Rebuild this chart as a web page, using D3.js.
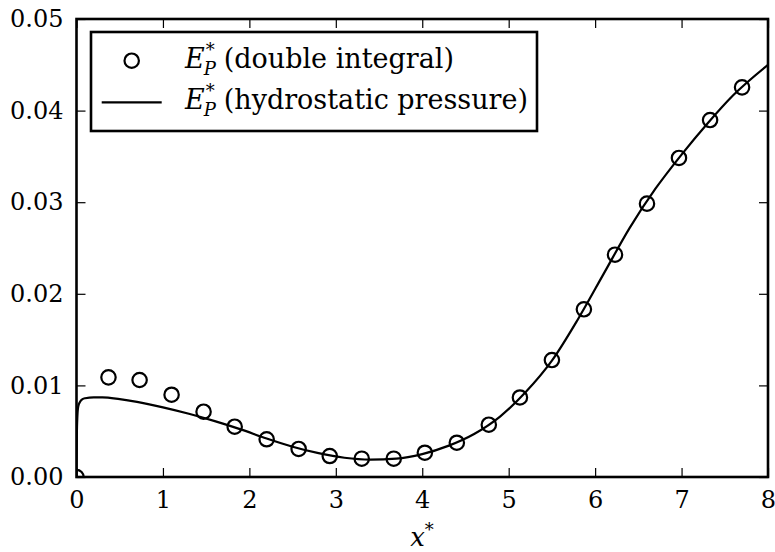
<!DOCTYPE html>
<html>
<head>
<meta charset="utf-8">
<script src="https://cdn.jsdelivr.net/npm/d3@7"></script>
<style>
  html, body { margin: 0; padding: 0; background: #fff; }
  svg { display: block; }
</style>
</head>
<body>
<svg id="chart" width="775" height="552"></svg>
<script>
// ---- data ----
const xTicks = [0, 1, 2, 3, 4, 5, 6, 7, 8];
const yTicks = [0.00, 0.01, 0.02, 0.03, 0.04, 0.05];
const yTickLabels = ["0.00", "0.01", "0.02", "0.03", "0.04", "0.05"];

// circles: E*_P (double integral)
const pointX = [0.00, 0.37, 0.73, 1.10, 1.47, 1.83, 2.20, 2.57, 2.93, 3.30, 3.67,
                4.03, 4.40, 4.77, 5.13, 5.50, 5.87, 6.23, 6.60, 6.97, 7.33, 7.70];
const pointY = [0.0000, 0.01088, 0.01059, 0.00898, 0.00713, 0.00549, 0.00412, 0.00306,
                0.00229, 0.00200, 0.00200, 0.00265, 0.00374, 0.00571, 0.00868, 0.01277,
                0.01831, 0.02427, 0.02984, 0.03483, 0.03897, 0.04254];

// line: E*_P (hydrostatic pressure)
const lineX = [0.000, 0.004, 0.010, 0.020, 0.040, 0.070, 0.100, 0.200, 0.300, 0.500, 0.700,
               1.000, 1.300, 1.600, 1.900, 2.200, 2.500, 2.800, 3.100, 3.400, 3.700,
               4.000, 4.300, 4.600, 4.900, 5.200, 5.500, 5.800, 6.100, 6.400, 6.700,
               7.000, 7.300, 7.600, 8.000];
const lineY = [0.0000, 0.0045, 0.0066, 0.0077, 0.0082, 0.0085, 0.0086, 0.0087, 0.0087, 0.0085, 0.0082,
               0.0076, 0.0069, 0.0061, 0.0052, 0.0042, 0.0033, 0.0026, 0.0021, 0.0019, 0.0020,
               0.0025, 0.0034, 0.0047, 0.0066, 0.0093, 0.0127, 0.0172, 0.0222, 0.0272, 0.0315,
               0.0352, 0.0386, 0.0417, 0.0450];

const legendLabels = ["(double integral)", "(hydrostatic pressure)"];

// ---- layout ----
const svg = d3.select("#chart");
const L = 76.5, R = 768, T = 19, B = 477;
const FONT = "DejaVu Serif";

const x = d3.scaleLinear().domain([0, 8]).range([L, R]);
const y = d3.scaleLinear().domain([0, 0.05]).range([B, T]);

const tickLen = 9;

const line = d3.line()
  .x((d, i) => x(lineX[i]))
  .y((d, i) => y(lineY[i]))
  .curve(d3.curveMonotoneX);

svg.append("clipPath").attr("id", "clip")
  .append("rect").attr("x", L).attr("y", T).attr("width", R - L).attr("height", B - T);

const plot = svg.append("g").attr("clip-path", "url(#clip)");

plot.append("path")
  .datum(lineX)
  .attr("d", line)
  .attr("fill", "none")
  .attr("stroke", "#000")
  .attr("stroke-width", 2.2);

plot.selectAll("circle.pt")
  .data(pointX)
  .enter().append("circle")
  .attr("class", "pt")
  .attr("cx", d => x(d))
  .attr("cy", (d, i) => y(pointY[i]))
  .attr("r", 7.2)
  .attr("fill", "none")
  .attr("stroke", "#000")
  .attr("stroke-width", 2.2);

// axes with inward ticks on all four sides
const axB = d3.axisBottom(x).tickValues(xTicks).tickSizeInner(-tickLen).tickSizeOuter(0).tickPadding(14).tickFormat(d3.format("d"));
const axT = d3.axisTop(x).tickValues(xTicks).tickSizeInner(-tickLen).tickSizeOuter(0).tickFormat("");
const axL = d3.axisLeft(y).tickValues(yTicks).tickSizeInner(-tickLen).tickSizeOuter(0).tickPadding(13).tickFormat((d, i) => yTickLabels[i]);
const axR = d3.axisRight(y).tickValues(yTicks).tickSizeInner(-tickLen).tickSizeOuter(0).tickFormat("");

function styleAxis(g) {
  g.select(".domain").remove();
  g.selectAll(".tick line").attr("stroke", "#000").attr("stroke-width", 1.2);
  g.selectAll(".tick text").attr("fill", "#000").style("font-family", FONT).style("font-size", "24px");
}

svg.append("g").attr("transform", `translate(0,${B})`).call(axB).call(styleAxis);
svg.append("g").attr("transform", `translate(0,${T})`).call(axT).call(styleAxis);
svg.append("g").attr("transform", `translate(${L},0)`).call(axL).call(styleAxis);
svg.append("g").attr("transform", `translate(${R},0)`).call(axR).call(styleAxis);

// frame
svg.append("rect")
  .attr("x", L).attr("y", T).attr("width", R - L).attr("height", B - T)
  .attr("fill", "none").attr("stroke", "#000").attr("stroke-width", 2.6);

// x label
const xl = svg.append("text")
  .attr("x", 422).attr("y", 546)
  .attr("text-anchor", "middle")
  .style("font-family", FONT).style("font-size", "26px");
xl.append("tspan").style("font-style", "italic").text("x");
xl.append("tspan").attr("dy", -10).style("font-size", "18px").text("*");

// legend
const lg = svg.append("g");
lg.append("rect")
  .attr("x", 91).attr("y", 32).attr("width", 446).attr("height", 99)
  .attr("fill", "#fff").attr("stroke", "#000").attr("stroke-width", 2.6);

lg.append("circle").attr("cx", 131.7).attr("cy", 60.7).attr("r", 7.2)
  .attr("fill", "none").attr("stroke", "#000").attr("stroke-width", 2.2);
lg.append("line").attr("x1", 101.7).attr("x2", 161.7).attr("y1", 102.3).attr("y2", 102.3)
  .attr("stroke", "#000").attr("stroke-width", 2.2);

const rowsY = [68, 109];
legendLabels.forEach((lab, i) => {
  const by = rowsY[i];
  const t = lg.append("text").attr("y", by)
    .style("font-family", FONT).style("font-size", "27px");
  const e = t.append("tspan").attr("x", 185).style("font-style", "italic").text("E");
  const ew = e.node().getComputedTextLength();
  const sx = 185 + ew + 1;
  t.append("tspan").attr("x", sx).attr("dy", -12).style("font-size", "18px").text("*");
  t.append("tspan").attr("x", sx - 2).attr("dy", 19).style("font-size", "18px").style("font-style", "italic").text("P");
  t.append("tspan").attr("x", sx + 18).attr("dy", -7).text(lab);
});
</script>
</body>
</html>
